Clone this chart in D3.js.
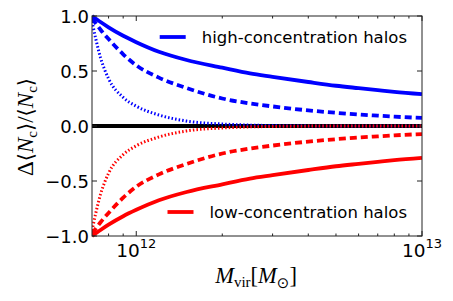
<!DOCTYPE html>
<html><head><meta charset="utf-8">
<script src="https://cdn.jsdelivr.net/npm/d3@7"></script>
<style>body{margin:0;background:#fff}svg{display:block}</style>
</head><body>
<svg id="c" width="453" height="301"></svg>
<script>
const masses = [7e11, 7.5e11, 8e11, 9e11, 1e12, 1.2e12, 1.5e12, 2e12, 2.5e12, 3e12, 4e12, 5e12, 6e12, 7e12, 8e12, 1e13];
const highSolid  = [1.0, 0.945, 0.897, 0.82, 0.762, 0.675, 0.60, 0.53, 0.478, 0.447, 0.40, 0.366, 0.344, 0.326, 0.311, 0.29];
const highDashed = [0.98, 0.875, 0.79, 0.652, 0.552, 0.44, 0.345, 0.25, 0.205, 0.178, 0.142, 0.12, 0.105, 0.094, 0.085, 0.073];
const highDotted = [0.95, 0.62, 0.43, 0.26, 0.18, 0.10, 0.045, 0.018, 0.008, 0.004, 0.001, 0, 0, 0, 0, 0];
const lowSolid   = [-1.0, -0.945, -0.897, -0.82, -0.762, -0.675, -0.60, -0.53, -0.478, -0.447, -0.40, -0.366, -0.344, -0.326, -0.311, -0.29];
const lowDashed  = [-0.98, -0.875, -0.79, -0.652, -0.552, -0.44, -0.345, -0.25, -0.205, -0.178, -0.142, -0.12, -0.105, -0.094, -0.085, -0.073];
const lowDotted  = [-0.95, -0.62, -0.43, -0.26, -0.18, -0.10, -0.045, -0.018, -0.008, -0.004, -0.001, 0, 0, 0, 0, 0];
const yTicks = [-1.0, -0.5, 0.0, 0.5, 1.0];
const xMajor = [1e12, 1e13];
const xMinor = [8e11, 9e11, 2e12, 3e12, 4e12, 5e12, 6e12, 7e12, 8e12, 9e12];
const legendLabels = ["high-concentration halos", "low-concentration halos"];

const L = 92, R = 422, T = 16, B = 236;
const svg = d3.select("#c");
const x = d3.scaleLog().domain([7e11, 1e13]).range([L, R]);
const y = d3.scaleLinear().domain([-1, 1]).range([B, T]);

svg.append("defs").append("clipPath").attr("id", "clip")
  .append("rect").attr("x", L).attr("y", T - 2).attr("width", R - L).attr("height", B - T + 4);

const g = svg.append("g").attr("clip-path", "url(#clip)");
g.append("line").attr("x1", x(7e11)).attr("x2", x(1e13)).attr("y1", y(0)).attr("y2", y(0))
  .attr("stroke", "#000").attr("stroke-width", 4);

const line = d3.line().x((d, i) => x(masses[i])).y(d => y(d)).curve(d3.curveMonotoneX);
const series = [
  {v: highDotted, c: "#0000ff", s: "dot"}, {v: lowDotted, c: "#ff0000", s: "dot"},
  {v: highDashed, c: "#0000ff", s: "dash"}, {v: lowDashed, c: "#ff0000", s: "dash"},
  {v: highSolid, c: "#0000ff", s: "solid"}, {v: lowSolid, c: "#ff0000", s: "solid"}
];
series.forEach(s => {
  const p = g.append("path").attr("d", line(s.v)).attr("fill", "none").attr("stroke", s.c);
  if (s.s === "solid") p.attr("stroke-width", 3.8);
  if (s.s === "dash") p.attr("stroke-width", 3.8).attr("stroke-dasharray", "7,4");
  if (s.s === "dot") p.attr("stroke-width", 3).attr("stroke-dasharray", "1.5,2.1");
});

svg.append("rect").attr("x", L).attr("y", T).attr("width", R - L).attr("height", B - T)
  .attr("fill", "none").attr("stroke", "#222").attr("stroke-width", 1);

const tk = svg.append("g").attr("stroke", "#222").attr("stroke-width", 1);
xMajor.forEach(v => {
  tk.append("line").attr("x1", x(v)).attr("x2", x(v)).attr("y1", B).attr("y2", B - 5);
  tk.append("line").attr("x1", x(v)).attr("x2", x(v)).attr("y1", T).attr("y2", T + 5);
});
xMinor.forEach(v => {
  tk.append("line").attr("x1", x(v)).attr("x2", x(v)).attr("y1", B).attr("y2", B - 2.5);
  tk.append("line").attr("x1", x(v)).attr("x2", x(v)).attr("y1", T).attr("y2", T + 2.5);
});
yTicks.forEach(v => {
  tk.append("line").attr("x1", L).attr("x2", L + 5).attr("y1", y(v)).attr("y2", y(v));
  tk.append("line").attr("x1", R).attr("x2", R - 5).attr("y1", y(v)).attr("y2", y(v));
});

const sans = "DejaVu Sans, sans-serif";
yTicks.forEach(v => {
  svg.append("text").attr("x", L - 3).attr("y", y(v) + 6.5).attr("text-anchor", "end")
    .attr("font-family", sans).attr("font-size", 18)
    .text(d3.format(".1f")(v).replace("-", "\u2212"));
});
xMajor.forEach(v => {
  const t = svg.append("text").attr("x", x(v)).attr("y", 257).attr("text-anchor", "middle")
    .attr("font-family", sans).attr("font-size", 18.5);
  t.append("tspan").text("10");
  t.append("tspan").attr("dy", -9).attr("font-size", 13).text(String(Math.round(Math.log10(v))));
});

const serif = "Liberation Serif, DejaVu Serif, serif";
const xl = svg.append("text").attr("x", 256).attr("y", 283).attr("text-anchor", "middle")
  .attr("font-family", serif).attr("font-size", 22.5);
xl.append("tspan").attr("font-style", "italic").text("M");
xl.append("tspan").attr("font-size", 15).attr("dy", 4).text("vir");
xl.append("tspan").attr("dy", -4).text("[");
xl.append("tspan").attr("font-style", "italic").text("M");
xl.append("tspan").attr("font-size", 15).attr("dy", 5).attr("font-family", "DejaVu Sans").text("\u2299");
xl.append("tspan").attr("dy", -5).text("]");

const yl = svg.append("text").attr("transform", "translate(33,127) rotate(-90)").attr("text-anchor", "middle")
  .attr("font-family", serif).attr("font-size", 23);
yl.append("tspan").text("\u0394");
yl.append("tspan").attr("font-family", "DejaVu Serif").attr("font-size", 21).text("\u27E8");
yl.append("tspan").attr("font-style", "italic").text("N");
yl.append("tspan").attr("font-size", 15).attr("dy", 4).text("c");
yl.append("tspan").attr("dy", -4).attr("font-family", "DejaVu Serif").attr("font-size", 21).text("\u27E9");
yl.append("tspan").text("/");
yl.append("tspan").attr("font-family", "DejaVu Serif").attr("font-size", 21).text("\u27E8");
yl.append("tspan").attr("font-style", "italic").text("N");
yl.append("tspan").attr("font-size", 15).attr("dy", 4).text("c");
yl.append("tspan").attr("dy", -4).attr("font-family", "DejaVu Serif").attr("font-size", 21).text("\u27E9");

const legs = [{t: legendLabels[0], c: "#0000ff", y: 43}, {t: legendLabels[1], c: "#ff0000", y: 218}];
legs.forEach(l => {
  const t = svg.append("text").attr("x", 407).attr("y", l.y).attr("text-anchor", "end")
    .attr("font-family", sans).attr("font-size", 16.5).text(l.t);
  const w = t.node().getComputedTextLength();
  const sx = 407 - w;
  svg.append("line").attr("x1", sx - 42).attr("x2", sx - 16).attr("y1", l.y - 6).attr("y2", l.y - 6)
    .attr("stroke", l.c).attr("stroke-width", 3.8);
});
</script>
</body></html>
